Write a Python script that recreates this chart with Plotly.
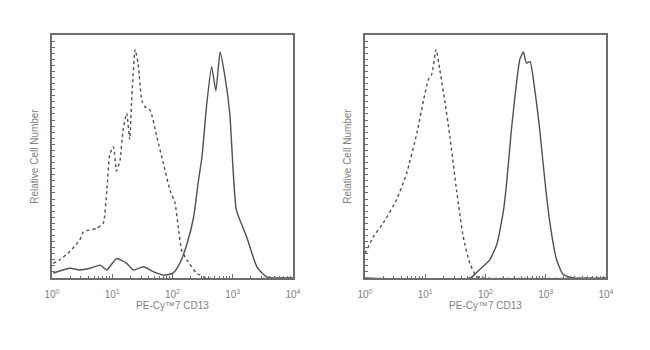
import numpy as np
import plotly.graph_objects as go

# Left panel (log10 of PE-Cy7 CD13 intensity, relative cell number)
left_iso_logx = [0.02, 0.13, 0.30, 0.46, 0.52, 0.74, 0.85, 0.91, 0.96, 1.02, 1.07, 1.13, 1.18, 1.24, 1.29, 1.32, 1.38, 1.43, 1.49, 1.54, 1.63, 1.74, 1.85, 1.96, 2.04, 2.10, 2.15, 2.24, 2.40, 2.57, 4.0]
left_iso_y = [0.06, 0.075, 0.11, 0.156, 0.19, 0.204, 0.225, 0.36, 0.51, 0.54, 0.44, 0.485, 0.61, 0.678, 0.57, 0.72, 0.94, 0.88, 0.73, 0.705, 0.69, 0.58, 0.47, 0.36, 0.31, 0.20, 0.115, 0.074, 0.02, 0.0, 0.0]

left_cd13_logx = [0.02, 0.30, 0.46, 0.63, 0.80, 0.91, 1.07, 1.24, 1.35, 1.52, 1.68, 1.85, 2.01, 2.12, 2.24, 2.35, 2.43, 2.49, 2.57, 2.65, 2.72, 2.79, 2.87, 2.95, 3.06, 3.23, 3.40, 3.56, 4.0]
left_cd13_y = [0.02, 0.04, 0.033, 0.04, 0.053, 0.033, 0.08, 0.06, 0.033, 0.046, 0.026, 0.012, 0.02, 0.06, 0.14, 0.25, 0.40, 0.50, 0.72, 0.87, 0.77, 0.93, 0.83, 0.68, 0.28, 0.17, 0.046, 0.005, 0.0]

# Right panel
right_iso_logx = [0.0, 0.14, 0.30, 0.52, 0.69, 0.86, 0.97, 1.05, 1.11, 1.18, 1.24, 1.33, 1.41, 1.52, 1.63, 1.74, 1.85, 1.95, 4.0]
right_iso_y = [0.10, 0.17, 0.225, 0.32, 0.43, 0.595, 0.73, 0.815, 0.84, 0.94, 0.86, 0.72, 0.58, 0.36, 0.17, 0.06, 0.007, 0.0, 0.0]

right_cd13_logx = [0.0, 1.74, 1.90, 2.07, 2.19, 2.30, 2.35, 2.43, 2.52, 2.57, 2.63, 2.68, 2.74, 2.82, 2.90, 2.99, 3.07, 3.18, 3.29, 3.46, 4.0]
right_cd13_y = [0.0, 0.0, 0.034, 0.075, 0.14, 0.28, 0.39, 0.61, 0.815, 0.90, 0.93, 0.884, 0.89, 0.77, 0.61, 0.39, 0.225, 0.075, 0.014, 0.0, 0.0]

major_ticks = [1, 10, 100, 1000, 10000]
major_labels = ["10<sup>0</sup>", "10<sup>1</sup>", "10<sup>2</sup>", "10<sup>3</sup>", "10<sup>4</sup>"]
x_title = "PE-Cy™7 CD13"
y_title = "Relative Cell Number"

minor_vals = [m * 10 ** k for k in range(4) for m in range(2, 10)]

LINE = "#505050"
FRAME = "#6e6e6e"
TXT = "#808080"
FONT = "Liberation Sans, Arial, sans-serif"

fig = go.Figure()

def add(xs, ys, dash, xa, ya):
    fig.add_trace(go.Scatter(x=np.power(10.0, xs), y=ys, mode="lines",
                             line=dict(color=LINE, width=1.4, dash=dash, shape="spline", smoothing=0.5),
                             xaxis=xa, yaxis=ya, showlegend=False, hoverinfo="skip"))

add(left_iso_logx, left_iso_y, "dot", "x", "y")
add(left_cd13_logx, left_cd13_y, "solid", "x", "y")
add(right_iso_logx, right_iso_y, "dot", "x2", "y2")
add(right_cd13_logx, right_cd13_y, "solid", "x2", "y2")

def xaxis(domain, anchor):
    return dict(domain=domain, anchor=anchor, type="log", range=[0, 4], automargin=False,
                tickvals=major_ticks, ticktext=major_labels,
                ticks="inside", ticklen=4, tickcolor=FRAME, tickwidth=1,
                ticklabelstandoff=6,
                minor=dict(tickvals=minor_vals, ticks="inside", ticklen=2, tickcolor=FRAME),
                showline=True, linecolor=FRAME, linewidth=1.8, mirror=True,
                showgrid=False, zeroline=False,
                tickfont=dict(family=FONT, size=10, color=TXT),
                title=dict(text=x_title, standoff=3,
                           font=dict(family=FONT, size=10, color=TXT)))

def yaxis(domain, anchor):
    return dict(domain=domain, anchor=anchor, range=[0, 1], automargin=False,
                dtick=0.025, ticks="inside", ticklen=3, tickcolor=FRAME, showticklabels=False,
                showline=True, linecolor=FRAME, linewidth=1.8, mirror=True,
                showgrid=False, zeroline=False,
                title=dict(text=y_title, standoff=10,
                           font=dict(family=FONT, size=10, color=TXT)))

fig.update_layout(
    width=650, height=350,
    margin=dict(l=0, r=0, t=0, b=0),
    paper_bgcolor="white", plot_bgcolor="white",
    xaxis=xaxis([52 / 650, 293 / 650], "y"),
    yaxis=yaxis([1 - 278 / 350, 1 - 35 / 350], "x"),
    xaxis2=xaxis([365 / 650, 606 / 650], "y2"),
    yaxis2=yaxis([1 - 278 / 350, 1 - 35 / 350], "x2"),
)

fig.write_html("out.html")
